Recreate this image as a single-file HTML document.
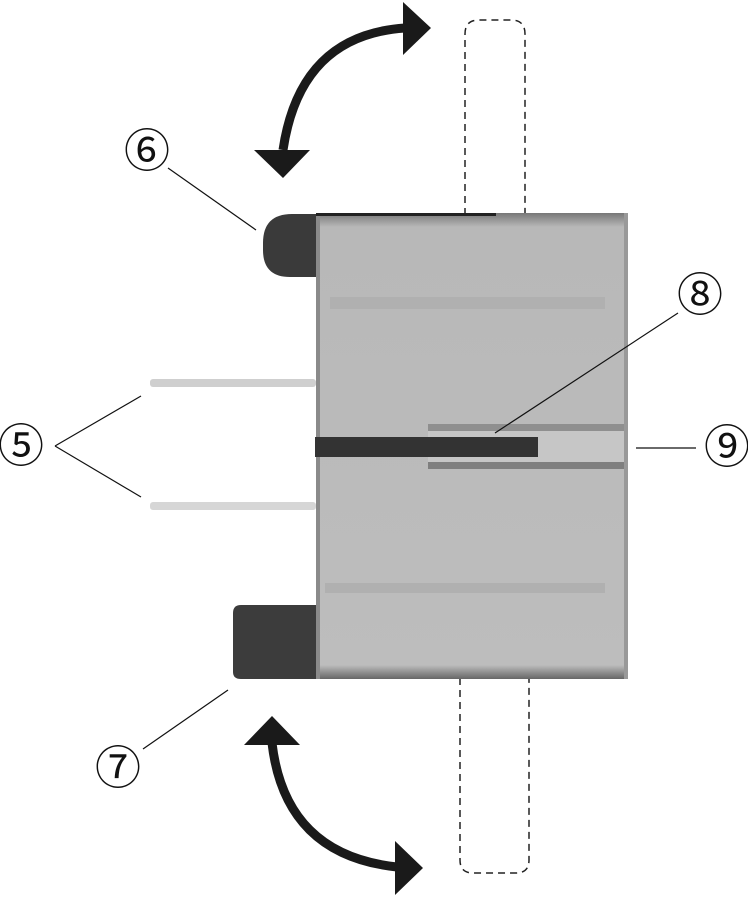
<!DOCTYPE html>
<html><head><meta charset="utf-8"><style>
html,body{margin:0;padding:0;background:#fff;}
svg{display:block;}
text{font-family:"Liberation Sans","Noto Sans CJK JP",sans-serif;font-size:46px;fill:#111;}
</style></head><body>
<svg width="748" height="897" viewBox="0 0 748 897" xmlns="http://www.w3.org/2000/svg">
<defs>
<linearGradient id="bd" x1="0" y1="0" x2="0" y2="1">
<stop offset="0" stop-color="#777"/><stop offset="0.03" stop-color="#b8b8b8"/><stop offset="0.97" stop-color="#bdbdbd"/><stop offset="1" stop-color="#666"/>
</linearGradient>
</defs>
<path d="M465 215 V34 Q465 20 479 20 H511 Q525 20 525 34 V215" fill="none" stroke="#222" stroke-width="1.5" stroke-dasharray="7,5"/>
<path d="M460 678 V860 Q460 873 473 873 H516 Q529 873 529 860 V678" fill="none" stroke="#222" stroke-width="1.5" stroke-dasharray="7,5"/>
<rect x="150" y="379" width="166" height="8" rx="3" fill="#cfcfcf"/>
<rect x="150" y="502" width="166" height="8" rx="3" fill="#d6d6d6"/>
<path d="M318 214 H292 Q263 214 263 243 V250 Q263 277 290 277 H318 Z" fill="#3a3a3a"/>
<path d="M316 605 H241 Q233 605 233 613 V672 Q233 679 241 679 H316 Z" fill="#3c3c3c"/>
<rect x="316" y="213" width="312" height="466" fill="url(#bd)"/>
<rect x="316" y="213" width="4" height="466" fill="#8a8a8a"/>
<rect x="624" y="213" width="4" height="466" fill="#999"/>
<rect x="330" y="297" width="275" height="12" fill="#b0b0b0"/>
<rect x="325" y="583" width="280" height="10" fill="#b0b0b0"/>
<rect x="316" y="213" width="180" height="3" fill="#222"/>
<rect x="428" y="424" width="196" height="45" fill="#c6c6c6"/>
<rect x="428" y="424" width="196" height="7" fill="#8f8f8f"/>
<rect x="428" y="462" width="196" height="7" fill="#7f7f7f"/>
<rect x="315" y="437" width="223" height="20" fill="#333"/>
<path d="M405 28 Q300 35 283 150" fill="none" stroke="#1a1a1a" stroke-width="9"/>
<polygon points="403,2 431,28 403,55" fill="#1a1a1a"/>
<polygon points="254,150 310,150 283,178" fill="#1a1a1a"/>
<path d="M272 743 Q285 855 397 867" fill="none" stroke="#1a1a1a" stroke-width="9"/>
<polygon points="244,745 300,745 272,716" fill="#1a1a1a"/>
<polygon points="395,841 423,868 395,895" fill="#1a1a1a"/>
<g stroke="#111" stroke-width="1.2" fill="none">
<line x1="168" y1="168" x2="256" y2="230"/>
<line x1="55" y1="446" x2="141" y2="396"/>
<line x1="55" y1="446" x2="141" y2="497"/>
<line x1="678" y1="313" x2="495" y2="433"/>
<line x1="636" y1="448" x2="696" y2="448"/>
<line x1="143" y1="749" x2="228" y2="690"/>
</g>
<text x="147" y="167" text-anchor="middle">⑥</text>
<text x="21" y="462" text-anchor="middle">⑤</text>
<text x="700" y="311" text-anchor="middle">⑧</text>
<text x="727" y="463" text-anchor="middle">⑨</text>
<text x="118" y="784" text-anchor="middle">⑦</text>
</svg>
</body></html>
